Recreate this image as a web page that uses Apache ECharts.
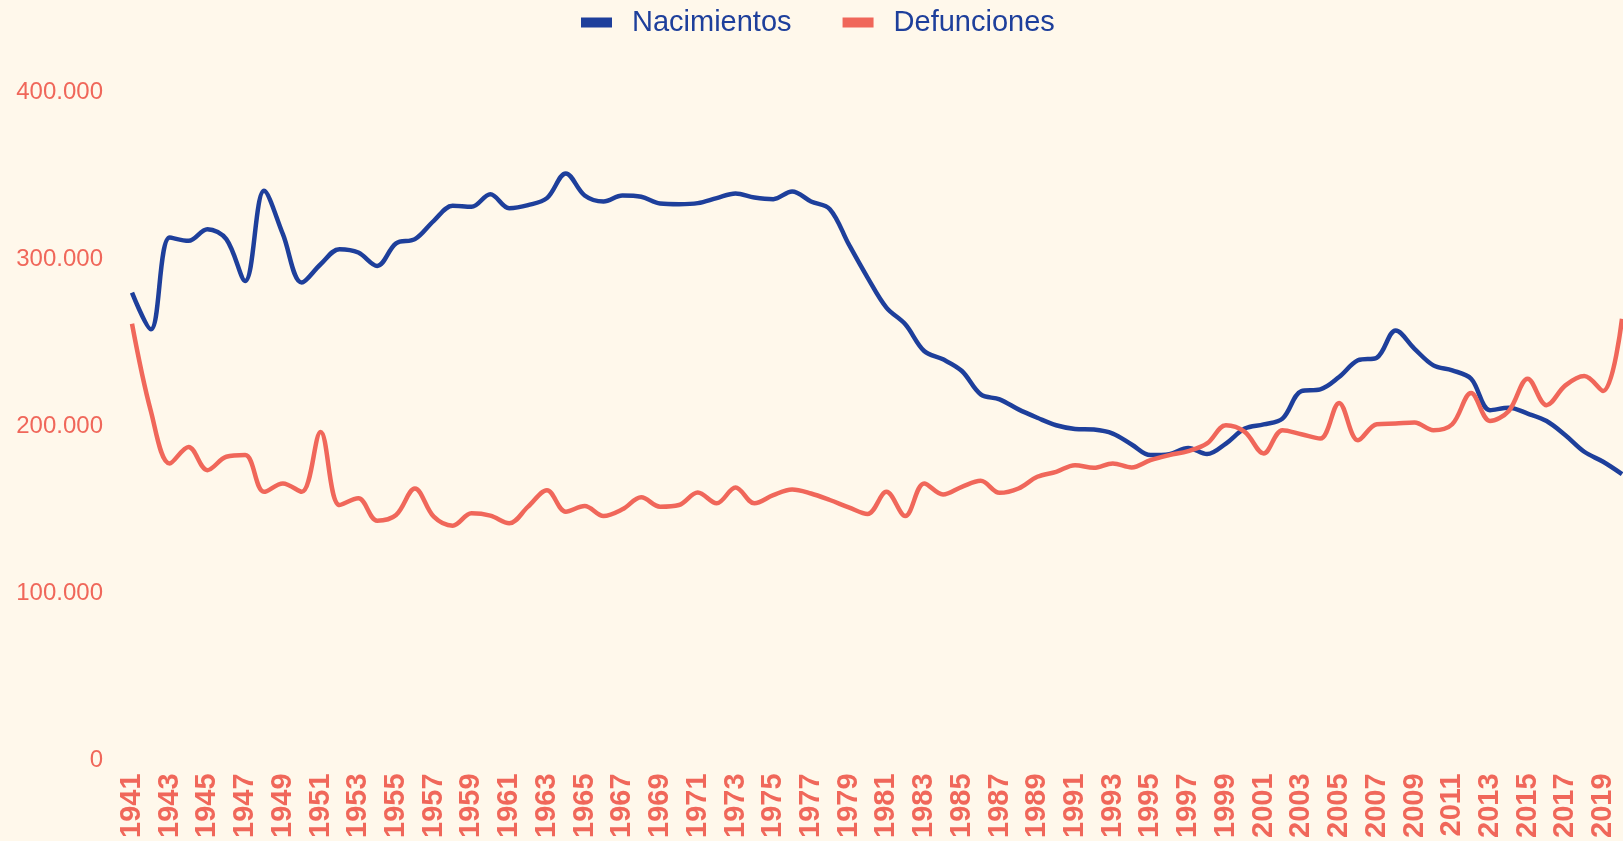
<!DOCTYPE html>
<html>
<head>
<meta charset="utf-8">
<script src="https://cdn.jsdelivr.net/npm/echarts@6/dist/echarts.min.js"></script>
<style>
  html, body { margin: 0; padding: 0; background: #FFF8EB; }
  #chart { width: 1623px; height: 841px; }
</style>
</head>
<body>
<div id="chart"></div>
<script>
// años
var years = ['1941','1942','1943','1944','1945','1946','1947','1948','1949','1950',
	'1951','1952','1953','1954','1955','1956','1957','1958','1959','1960',
	'1961','1962','1963','1964','1965','1966','1967','1968','1969','1970',
	'1971','1972','1973','1974','1975','1976','1977','1978','1979','1980',
	'1981','1982','1983','1984','1985','1986','1987','1988','1989','1990',
	'1991','1992','1993','1994','1995','1996','1997','1998','1999','2000',
	'2001','2002','2003','2004','2005','2006','2007','2008','2009','2010',
	'2011','2012','2013','2014','2015','2016','2017','2018','2019','2020'];

var nacimientos = [278000, 256000, 311000, 309000, 316000, 310000, 285000, 339000, 313000, 284000,
	295000, 304000, 302000, 294000, 307500, 310000, 321000, 330000, 329400, 337000,
	328600, 330400, 334600, 349400, 336200, 332600, 336200, 335400, 331400, 331000,
	331600, 334600, 337400, 335000, 334000, 338600, 332600, 328000, 307000, 287000,
	269000, 259000, 243000, 238000, 231000, 217000, 214000, 208000, 203000, 198500,
	196300, 195900, 193500, 187000, 180600, 181200, 184900, 181200, 187500, 196500,
	199000, 202500, 219000, 220000, 227400, 237400, 239000, 255300, 244300, 234400,
	231400, 226400, 207500, 209000, 205500, 201000, 192500, 182600, 176600, 169200];

var defunciones = [259300, 207000, 175600, 185500, 171600, 179600, 180600, 158600, 163600, 158600,
	194500, 150700, 154700, 141300, 144700, 160600, 143700, 138300, 145700, 144300,
	139700, 149700, 159600, 146700, 150100, 144100, 148100, 155300, 149700, 150700,
	158200, 151700, 161200, 151700, 156600, 160000, 157600, 153700, 149300, 145300,
	158600, 144100, 163600, 157000, 161600, 165200, 158000, 160600, 167600, 170600,
	174600, 173000, 175600, 173200, 177600, 180600, 183000, 187600, 198500, 194500,
	181600, 195500, 193100, 190500, 211900, 189500, 199100, 199500, 200100, 195500,
	199100, 217800, 201100, 207100, 226400, 210500, 222400, 228000, 219000, 262300];

var azul = '#1E3F9B';
var salmon = '#F0675A';
var fuente = '"Liberation Sans", Arial, Helvetica, sans-serif';

function puntos(v) {
	return String(v).replace(/\B(?=(\d{3})+(?!\d))/g, '.');
}

var myChart = echarts.init(document.getElementById('chart'));
var option = {
	backgroundColor: '#FFF8EB',
	animation: false,
	legend: {
		left: 576,
		top: 3,
		icon: 'rect',
		itemWidth: 31,
		itemHeight: 10,
		itemGap: 51,
		textStyle: {
			color: azul,
			fontSize: 29,
			fontFamily: fuente,
			padding: [0, 0, 0, 15]
		},
		data: ['Nacimientos', 'Defunciones']
	},
	grid: {
		left: 132,
		right: 1,
		top: 89,
		bottom: 81
	},
	xAxis: {
		type: 'category',
		boundaryGap: false,
		data: years,
		axisLine: { show: false },
		axisTick: { show: false },
		axisLabel: {
			rotate: 90,
			interval: 1,
			margin: 17,
			color: salmon,
			fontSize: 29,
			fontWeight: 'bold',
			fontFamily: fuente
		}
	},
	yAxis: {
		type: 'value',
		min: 0,
		max: 400000,
		interval: 100000,
		splitLine: { show: false },
		axisLine: { show: false },
		axisTick: { show: false },
		axisLabel: {
			margin: 29,
			color: salmon,
			fontSize: 24,
			fontFamily: fuente,
			verticalAlign: 'top',
			lineHeight: 7,
			formatter: puntos
		}
	},
	series: [{
		name: 'Nacimientos',
		type: 'line',
		smooth: 0.35,
		showSymbol: false,
		color: azul,
		lineStyle: { width: 4.5, color: azul },
		data: nacimientos
	}, {
		name: 'Defunciones',
		type: 'line',
		smooth: 0.35,
		showSymbol: false,
		color: salmon,
		lineStyle: { width: 4.5, color: salmon },
		data: defunciones
	}]
};
myChart.setOption(option);
</script>
</body>
</html>
